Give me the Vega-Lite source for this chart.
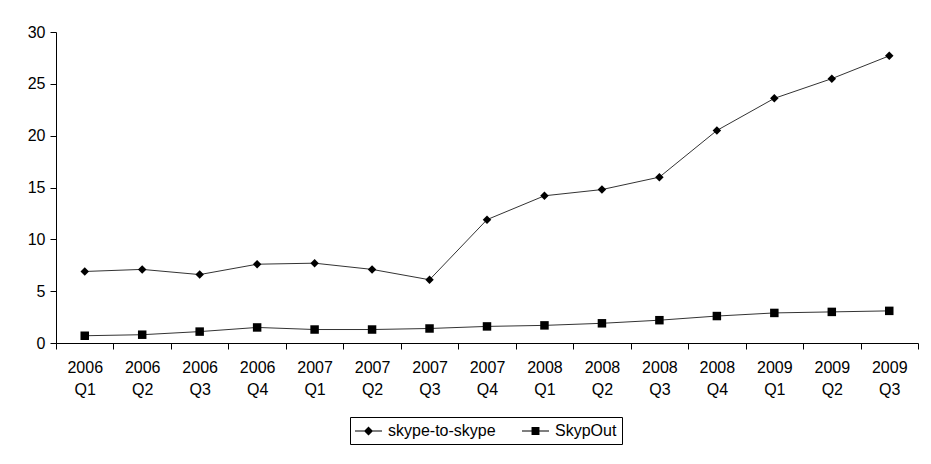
{
  "$schema": "https://vega.github.io/schema/vega-lite/v6.json",
  "width": 862,
  "height": 311,
  "autosize": "none",
  "padding": {"left": 56, "top": 32, "right": 13, "bottom": 121},
  "background": "white",
  "config": {
    "view": {"stroke": null},
    "font": "Liberation Sans",
    "axis": {
      "domainColor": "black",
      "domainWidth": 1,
      "tickColor": "black",
      "tickWidth": 1,
      "tickSize": 6,
      "labelColor": "black",
      "labelFont": "Liberation Sans",
      "labelFontSize": 16,
      "grid": false,
      "title": null
    }
  },
  "data": {
    "values": [
      {"quarter": "2006 Q1", "series": "skype-to-skype", "value": 6.9},
      {"quarter": "2006 Q2", "series": "skype-to-skype", "value": 7.1},
      {"quarter": "2006 Q3", "series": "skype-to-skype", "value": 6.6},
      {"quarter": "2006 Q4", "series": "skype-to-skype", "value": 7.6},
      {"quarter": "2007 Q1", "series": "skype-to-skype", "value": 7.7},
      {"quarter": "2007 Q2", "series": "skype-to-skype", "value": 7.1},
      {"quarter": "2007 Q3", "series": "skype-to-skype", "value": 6.1},
      {"quarter": "2007 Q4", "series": "skype-to-skype", "value": 11.9},
      {"quarter": "2008 Q1", "series": "skype-to-skype", "value": 14.2},
      {"quarter": "2008 Q2", "series": "skype-to-skype", "value": 14.8},
      {"quarter": "2008 Q3", "series": "skype-to-skype", "value": 16.0},
      {"quarter": "2008 Q4", "series": "skype-to-skype", "value": 20.5},
      {"quarter": "2009 Q1", "series": "skype-to-skype", "value": 23.6},
      {"quarter": "2009 Q2", "series": "skype-to-skype", "value": 25.5},
      {"quarter": "2009 Q3", "series": "skype-to-skype", "value": 27.7},
      {"quarter": "2006 Q1", "series": "SkypOut", "value": 0.7},
      {"quarter": "2006 Q2", "series": "SkypOut", "value": 0.8},
      {"quarter": "2006 Q3", "series": "SkypOut", "value": 1.1},
      {"quarter": "2006 Q4", "series": "SkypOut", "value": 1.5},
      {"quarter": "2007 Q1", "series": "SkypOut", "value": 1.3},
      {"quarter": "2007 Q2", "series": "SkypOut", "value": 1.3},
      {"quarter": "2007 Q3", "series": "SkypOut", "value": 1.4},
      {"quarter": "2007 Q4", "series": "SkypOut", "value": 1.6},
      {"quarter": "2008 Q1", "series": "SkypOut", "value": 1.7},
      {"quarter": "2008 Q2", "series": "SkypOut", "value": 1.9},
      {"quarter": "2008 Q3", "series": "SkypOut", "value": 2.2},
      {"quarter": "2008 Q4", "series": "SkypOut", "value": 2.6},
      {"quarter": "2009 Q1", "series": "SkypOut", "value": 2.9},
      {"quarter": "2009 Q2", "series": "SkypOut", "value": 3.0},
      {"quarter": "2009 Q3", "series": "SkypOut", "value": 3.1}
    ]
  },
  "encoding": {
    "x": {
      "field": "quarter",
      "type": "ordinal",
      "sort": null,
      "scale": {"type": "band", "paddingInner": 0, "paddingOuter": 0},
      "axis": {
        "labelAngle": 0,
        "tickBand": "extent",
        "labelExpr": "split(datum.label, ' ')",
        "labelLineHeight": 22,
        "labelPadding": 10,
        "labelBaseline": "top"
      }
    },
    "y": {
      "field": "value",
      "type": "quantitative",
      "scale": {"domain": [0, 30], "nice": false},
      "axis": {"values": [0, 5, 10, 15, 20, 25, 30], "labelPadding": 5}
    }
  },
  "layer": [
    {
      "mark": {"type": "line", "color": "#333333", "strokeWidth": 1},
      "encoding": {"detail": {"field": "series", "type": "nominal"}}
    },
    {
      "mark": {"type": "point", "filled": true, "color": "black", "opacity": 1, "size": 72},
      "encoding": {
        "shape": {
          "field": "series",
          "type": "nominal",
          "scale": {"domain": ["skype-to-skype", "SkypOut"], "range": ["diamond", "square"]},
          "legend": null
        }
      }
    },
    {
      "transform": [{"filter": "false"}],
      "mark": {"type": "point", "filled": true, "color": "black", "opacity": 1},
      "encoding": {
        "shape": {
          "field": "series",
          "type": "nominal",
          "scale": {
            "domain": ["skype-to-skype", "SkypOut"],
            "range": [
              "M-1,-0.06H2V0.06H-1ZM0.5,-0.5L1,0L0.5,0.5L0,0Z",
              "M-1,-0.06H2V0.06H-1ZM0.06,-0.44H0.94V0.44H0.06Z"
            ]
          },
          "legend": {
            "title": null,
            "orient": "none",
            "legendX": 294,
            "legendY": 385,
            "direction": "horizontal",
            "columns": 2,
            "strokeColor": "black",
            "fillColor": "white",
            "padding": 5,
            "symbolSize": 324,
            "symbolFillColor": "black",
            "symbolStrokeColor": "black",
            "symbolStrokeWidth": 0,
            "symbolOpacity": 1,
            "labelFont": "Liberation Sans",
            "labelFontSize": 16,
            "labelColor": "black",
            "labelOffset": 15,
            "columnPadding": 26
          }
        }
      }
    }
  ],
  "resolve": {"scale": {"shape": "independent"}}
}
